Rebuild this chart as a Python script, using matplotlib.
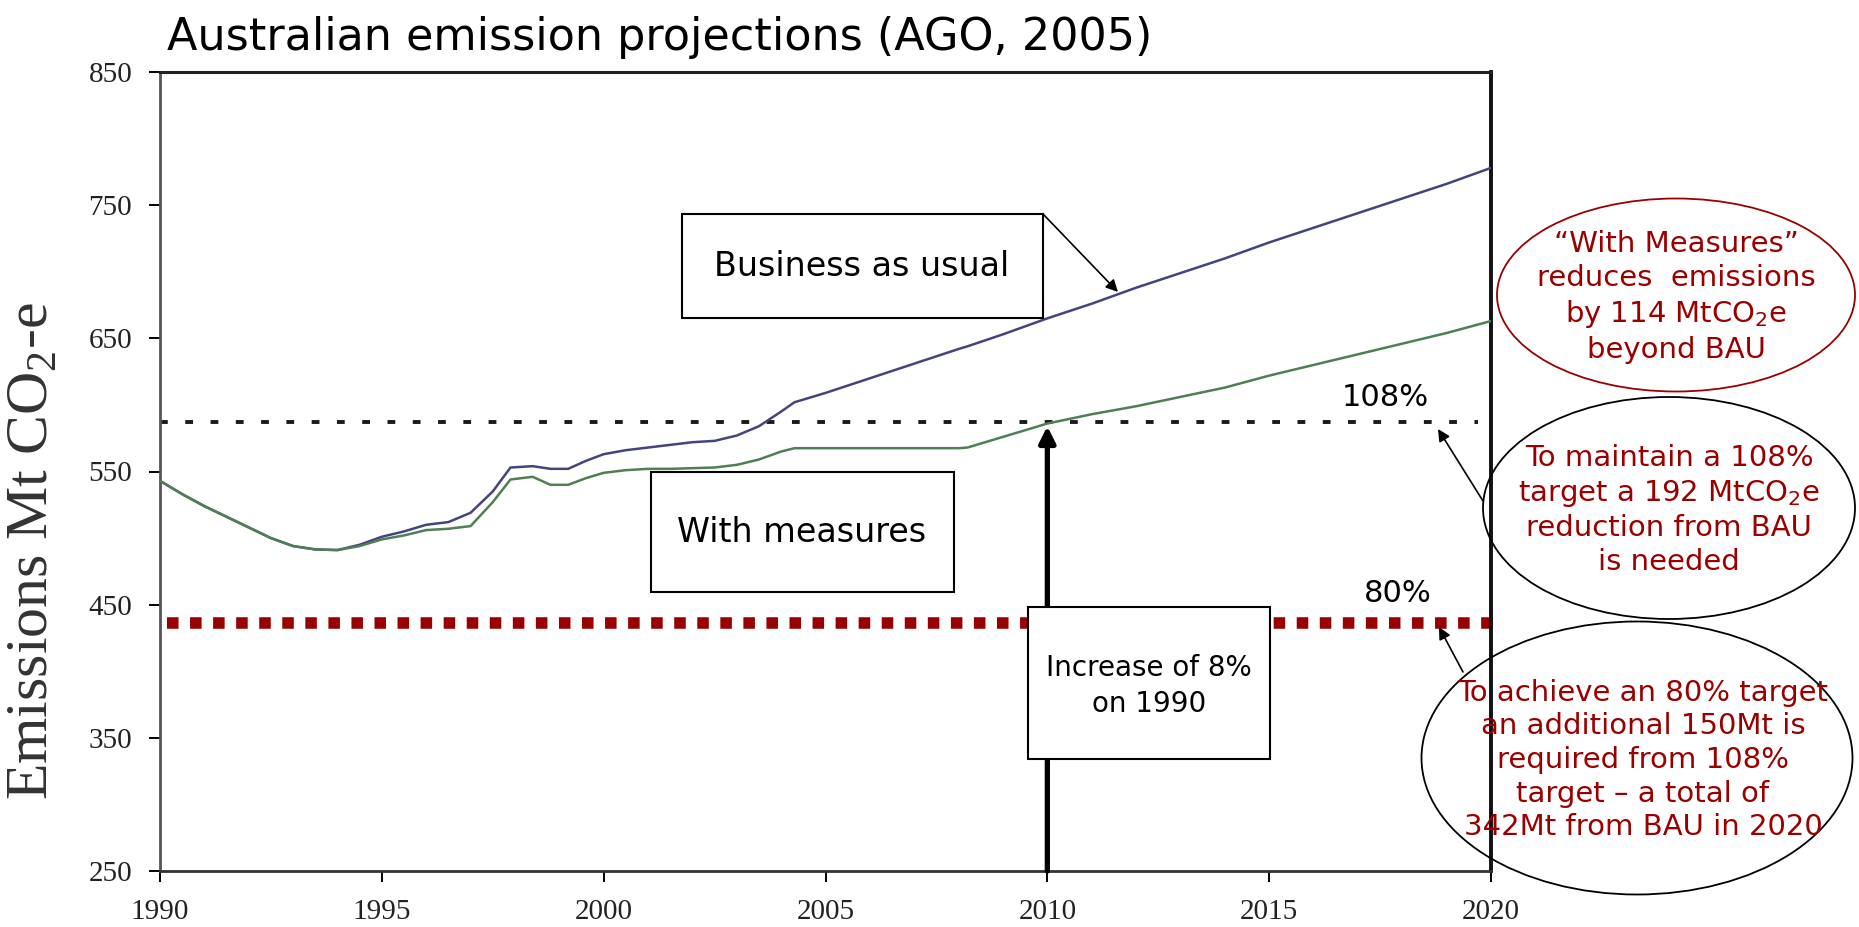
import matplotlib
matplotlib.use('Agg')
import matplotlib.pyplot as plt
from matplotlib.patches import Rectangle, Ellipse

plt.rcParams['font.family'] = ['DejaVu Sans']

###############################
##### projection data (Mt) ####
###############################
years = [1990, 1990.5, 1991, 1991.5, 1992, 1992.5, 1993, 1993.5, 1994, 1994.5,
         1995, 1995.5, 1996, 1996.5, 1997, 1997.5, 1997.9, 1998.4, 1998.8, 1999.2,
         1999.6, 2000, 2000.5, 2001, 2001.5, 2002, 2002.5, 2003, 2003.5, 2004,
         2004.3, 2005, 2006, 2007, 2008, 2008.2, 2009, 2010, 2011, 2012,
         2013, 2014, 2015, 2016, 2017, 2018, 2019, 2020]
bau = [543, 533, 524, 516, 508, 500, 494, 491.5, 491, 495,
       501, 505, 510, 512, 519, 535, 553, 554, 552, 552,
       558, 563, 566, 568, 570, 572, 573, 577, 584, 595,
       602, 609, 620, 631, 642, 644, 653, 665, 676, 688,
       699, 710, 722, 733, 744, 755, 766, 778]
with_measures = [543, 533, 524, 516, 508, 500, 494, 491.5, 491, 494,
                 499, 502, 506, 507, 509, 527, 544, 546, 540, 540,
                 545, 549, 551, 552, 552, 552.5, 553, 555, 559, 565,
                 567.5, 567.5, 567.5, 567.5, 567.5, 568, 576, 586, 593, 599,
                 606, 613, 622, 630, 638, 646, 654, 663]
target_108 = 587   # 108% of 1990
target_80 = 436    # 80% of 1990
arrow_year = 2010
xticks = [1990, 1995, 2000, 2005, 2010, 2015, 2020]
yticks = [250, 350, 450, 550, 650, 750, 850]

W, H = 1859, 927
fig = plt.figure(figsize=(W / 100, H / 100), dpi=100)
ax = fig.add_axes([160 / W, 1 - 871 / H, (1491 - 160) / W, (871 - 72) / H])

ax.plot(years, bau, color='#44447f', lw=1.8, zorder=3)
ax.plot(years, with_measures, color='#4f7f55', lw=1.8, zorder=3)

# target lines
ax.axhline(target_108, xmin=0, xmax=0.99, color='#1a1a1a', lw=2.8, dashes=(2.0, 4.5), zorder=2)
ax.axhline(target_80, xmin=0.005, xmax=1.005, color='#990000', lw=8.3, dashes=(1, 1),
           solid_capstyle='butt', dash_capstyle='butt', clip_on=False, zorder=2)

# increase arrow at 2010
ax.annotate('', xy=(arrow_year, target_108 - 3), xytext=(arrow_year, yticks[0]),
            arrowprops=dict(arrowstyle='-|>', color='black', lw=3.8, mutation_scale=24,
                            shrinkA=0, shrinkB=0), annotation_clip=False, zorder=4)

ax.set_xlim(xticks[0], xticks[-1])
ax.set_ylim(yticks[0], yticks[-1])
ax.set_xticks(xticks)
ax.set_yticks(yticks)
ax.tick_params(axis='both', direction='out', length=8, width=1.4, pad=12,
               labelsize=21, labelcolor='#222222', labelfontfamily='Liberation Serif')
ax.spines['left'].set_color('#555555')
ax.spines['left'].set_linewidth(2)
ax.spines['bottom'].set_color('#333333')
ax.spines['bottom'].set_linewidth(2)
ax.spines['top'].set_color('#222222')
ax.spines['top'].set_linewidth(2.2)
ax.spines['right'].set_color('#111111')
ax.spines['right'].set_linewidth(2.8)

fig.text(33 / W, 1 - 551 / H, r'Emissions Mt CO$_{\mathdefault{2}}$-e', rotation=90,
         family='Liberation Serif', fontsize=43, color='#333333', ha='center', va='center')
fig.text(167 / W, 1 - 50 / H, 'Australian emission projections (AGO, 2005)',
         fontsize=32, ha='left', va='baseline')

#####################################
##### annotation layer in pixels ####
#####################################
ov = fig.add_axes([0, 0, 1, 1])
ov.set_xlim(0, W)
ov.set_ylim(H, 0)
ov.axis('off')

# text boxes
ov.add_patch(Rectangle((682, 214), 361, 104, fc='white', ec='black', lw=1.5))
ov.text(862, 266, 'Business as usual', fontsize=24, ha='center', va='center')
ov.add_patch(Rectangle((651, 472), 303, 120, fc='white', ec='black', lw=1.5))
ov.text(802, 533, 'With measures', fontsize=24, ha='center', va='center')
ov.add_patch(Rectangle((1028, 607), 242, 152, fc='white', ec='black', lw=1.5))
ov.text(1149, 686, 'Increase of 8%\non 1990', fontsize=20, ha='center', va='center',
        linespacing=1.4)

ov.annotate('', xy=(1118, 292), xytext=(1043, 214),
            arrowprops=dict(arrowstyle='-|>', color='black', lw=1.2, mutation_scale=18,
                            shrinkA=0, shrinkB=0))

# percent labels
ov.text(1385, 398, '108%', fontsize=22, ha='center', va='center')
ov.text(1398, 594, '80%', fontsize=22, ha='center', va='center')

# callout ellipses
red = '#990000'
ov.add_patch(Ellipse((1676, 295), 358, 193, fill=False, ec=red, lw=1.3))
ov.text(1676, 297, '\u201cWith Measures\u201d\nreduces  emissions\nby 114 MtCO$_{\\mathdefault{2}}$e\nbeyond BAU',
        fontsize=21, color=red, ha='center', va='center', linespacing=1.25)

ov.add_patch(Ellipse((1669, 508), 372, 222, fill=False, ec='black', lw=1.3))
ov.text(1669, 510, 'To maintain a 108%\ntarget a 192 MtCO$_{\\mathdefault{2}}$e\nreduction from BAU\nis needed',
        fontsize=21, color=red, ha='center', va='center', linespacing=1.25)
ov.annotate('', xy=(1438, 429), xytext=(1483, 501),
            arrowprops=dict(arrowstyle='-|>', color='black', lw=1.2, mutation_scale=18,
                            shrinkA=0, shrinkB=0))

ov.add_patch(Ellipse((1637, 758), 431, 273, fill=False, ec='black', lw=1.3))
ov.text(1643, 760, 'To achieve an 80% target\nan additional 150Mt is\nrequired from 108%\ntarget \u2013 a total of\n342Mt from BAU in 2020',
        fontsize=21, color=red, ha='center', va='center', linespacing=1.25)
ov.annotate('', xy=(1439, 627), xytext=(1463, 672),
            arrowprops=dict(arrowstyle='-|>', color='black', lw=1.2, mutation_scale=18,
                            shrinkA=0, shrinkB=0))

plt.savefig('out.png', dpi=100)
